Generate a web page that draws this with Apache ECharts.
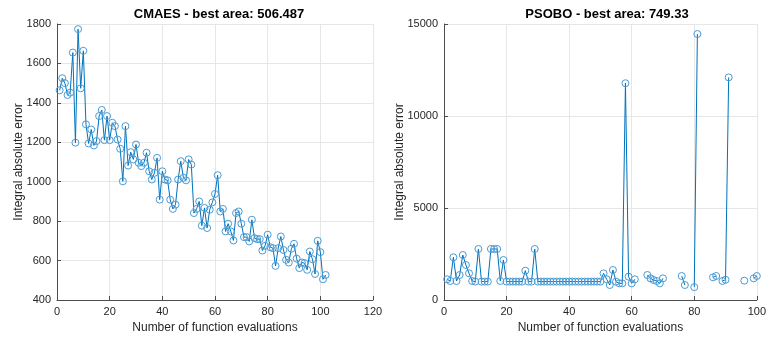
<!DOCTYPE html>
<html>
<head>
<meta charset="utf-8">
<script src="https://cdn.jsdelivr.net/npm/echarts@6/dist/echarts.min.js"></script>
<style>
  html, body { margin: 0; background: #fff; }
  #main { width: 769px; height: 340px; }
</style>
</head>
<body>
<div id="main"></div>
<script>
// CMAES run, one value per function evaluation (1..102)
const cmaesErr = [
  1464, 1525, 1500, 1440, 1452, 1655, 1198, 1774, 1474, 1664,
  1291, 1194, 1265, 1184, 1206, 1333, 1364, 1211, 1333, 1211,
  1299, 1282, 1214, 1167, 1002, 1282, 1082, 1150, 1113, 1189,
  1096, 1079, 1096, 1147, 1053, 1011, 1045, 1121, 909, 1053,
  1011, 1007, 909, 862, 884, 1011, 1104, 1020, 1007, 1113,
  1087, 841, 862, 900, 777, 867, 765, 858, 895, 938,
  1033, 849, 862, 748, 787, 748, 702, 841, 849, 787,
  719, 719, 697, 807, 714, 709, 709, 651, 675, 731,
  668, 663, 573, 663, 722, 654, 604, 590, 660, 685,
  610, 562, 590, 587, 553, 646, 607, 532, 700, 643,
  505, 527
];

// PSOBO run (1..100), null = no point
const psoboErr = [
  1125, 1033, 2320, 1033, 1359, 2446, 1902, 1450, 1033, 1000,
  2772, 1000, 1000, 1000, 2772, 2772, 2772, 1033, 2174, 1000,
  1000, 1000, 1000, 1000, 1000, 1594, 1000, 1000, 2772, 1000,
  1000, 1000, 1000, 1000, 1000, 1000, 1000, 1000, 1000, 1000,
  1000, 1000, 1000, 1000, 1000, 1000, 1000, 1000, 1000, 1000,
  1450, 1125, 815, 1630, 996, 906, 906, 11780, 1268, 906,
  1125, null, null, null, 1359, 1178, 1087, 1033, 906, 1178,
  null, null, null, null, null, 1304, 815, null, null, 700,
  14457, null, null, null, null, 1233, 1304, null, 1033, 1100,
  12100, null, null, null, null, 1050, null, null, 1178, 1304
];

const cmaesTitle = "CMAES - best area: 506.487";
const psoboTitle = "PSOBO - best area: 749.33";
const xName = "Number of function evaluations";
const yName = "Integral absolute error";

function toPoints(values) {
  return values.map((v, i) => [i + 1, v == null ? "-" : v]);
}

const font = "'Liberation Sans', Arial, sans-serif";
const textColor = "#262626";
const lineBlue = "#0072BD";

function xAxisCfg(gridIndex, max) {
  return {
    gridIndex: gridIndex,
    type: "value",
    min: 0,
    max: max,
    interval: 20,
    name: xName,
    nameLocation: "middle",
    nameGap: 22,
    nameTextStyle: { fontFamily: font, fontSize: 12, color: textColor },
    axisLine: { show: true, onZero: false, lineStyle: { color: "#4d4d4d", width: 1 } },
    axisTick: { show: true, inside: true, length: 4, lineStyle: { color: "#4d4d4d" } },
    axisLabel: { fontFamily: font, fontSize: 11, color: textColor, margin: 6,
                 formatter: (v) => String(v) },
    splitLine: { show: true, lineStyle: { color: "#e6e6e6", width: 1 } }
  };
}

function yAxisCfg(gridIndex, min, max, interval, gap) {
  return {
    gridIndex: gridIndex,
    type: "value",
    min: min,
    max: max,
    interval: interval,
    name: yName,
    nameLocation: "middle",
    nameGap: gap,
    nameMoveOverlap: false,
    nameTextStyle: { fontFamily: font, fontSize: 12, color: textColor },
    axisLine: { show: true, onZero: false, lineStyle: { color: "#4d4d4d", width: 1 } },
    axisTick: { show: true, inside: true, length: 4, lineStyle: { color: "#4d4d4d" } },
    axisLabel: { fontFamily: font, fontSize: 11, color: textColor, margin: 6,
                 formatter: (v) => String(v) },
    splitLine: { show: true, lineStyle: { color: "#e6e6e6", width: 1 } }
  };
}

function seriesCfg(idx, values) {
  return {
    type: "line",
    xAxisIndex: idx,
    yAxisIndex: idx,
    data: toPoints(values),
    symbol: "circle",
    symbolSize: 7,
    showAllSymbol: true,
    connectNulls: false,
    animation: false,
    lineStyle: { color: lineBlue, width: 1 },
    itemStyle: { color: "rgba(0,0,0,0)", borderColor: "#4a9bd4", borderWidth: 1 },
    emphasis: { disabled: true }
  };
}

const option = {
  backgroundColor: "#fff",
  animation: false,
  title: [
    { text: cmaesTitle, left: 214, top: 3, textAlign: "center",
      textStyle: { fontFamily: font, fontSize: 13, fontWeight: "bold", color: "#000" } },
    { text: psoboTitle, left: 602, top: 3, textAlign: "center",
      textStyle: { fontFamily: font, fontSize: 13, fontWeight: "bold", color: "#000" } }
  ],
  grid: [
    { left: 57, top: 24, width: 316, height: 276 },
    { left: 444, top: 24, width: 317, height: 276 }
  ],
  xAxis: [xAxisCfg(0, 120), xAxisCfg(1, 100)],
  yAxis: [yAxisCfg(0, 400, 1800, 200, 32), yAxisCfg(1, 0, 15000, 5000, 38)],
  series: [seriesCfg(0, cmaesErr), seriesCfg(1, psoboErr)]
};

const chart = echarts.init(document.getElementById("main"), null, { renderer: "canvas" });
chart.setOption(option);
</script>
</body>
</html>
